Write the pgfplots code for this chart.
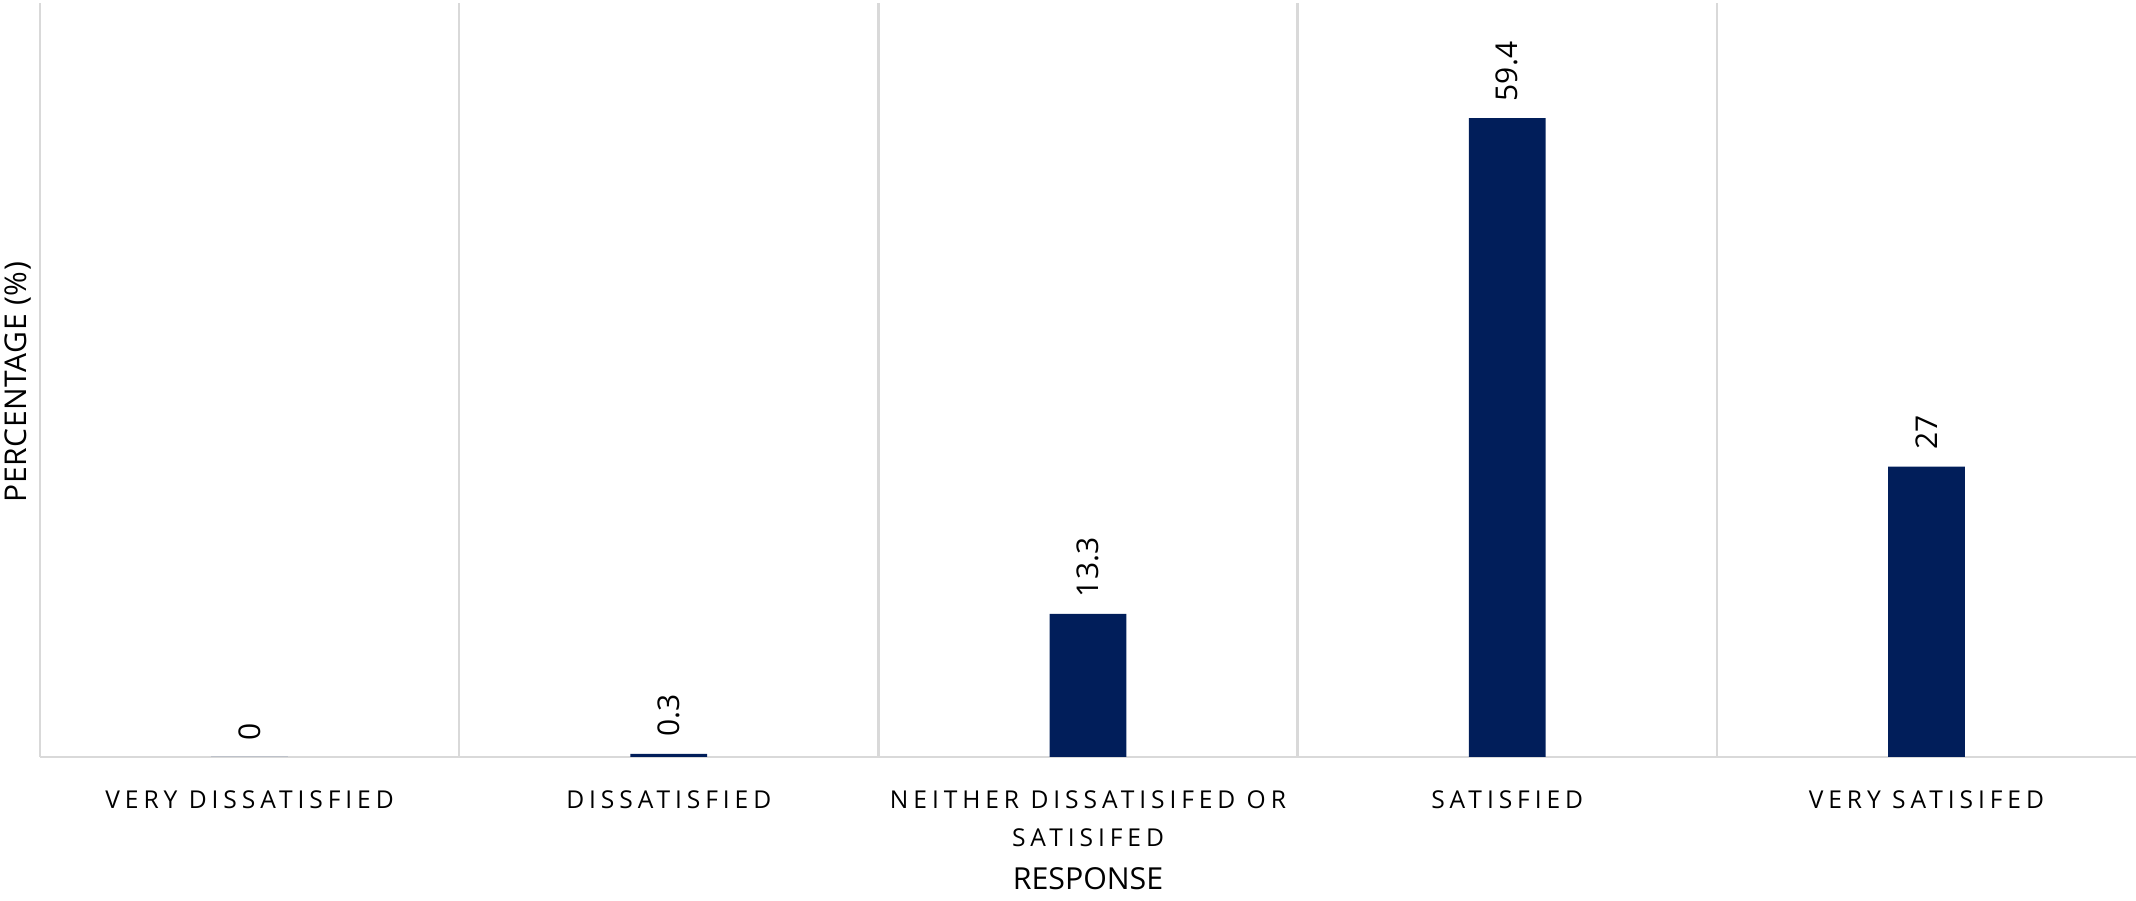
\documentclass[border=0pt]{standalone}
\usepackage{fontspec}
\setmainfont{Open Sans}
\newfontfamily\tickfont[LetterSpace=20]{Open Sans}
\newfontfamily\ylabfont[LetterSpace=2]{Open Sans}
\newfontfamily\valfont{Open Sans}
\usepackage{pgfplots}
\pgfplotsset{compat=1.18}
\definecolor{barnavy}{HTML}{011E5A}
\definecolor{gridgray}{HTML}{D9D9D9}

\begin{document}
\begin{tikzpicture}
\path[use as bounding box] (-13.33pt,-48pt) rectangle (698.67pt,252.33pt);
\begin{axis}[
  at={(0,0)}, anchor=south west,
  scale only axis, width=698.67pt, height=251.33pt,
  xmin=-0.5, xmax=4.5, ymin=0, ymax=70.1,
  ybar, bar width=25.6pt,
  axis line style={draw=none},
  xtick={0,1,2,3,4},
  xticklabels={{VERY DISSATISFIED},{DISSATISFIED},{NEITHER DISSATISIFED OR\\SATISIFED},{SATISFIED},{VERY SATISIFED}},
  minor xtick={-0.5,0.5,1.5,2.5,3.5},
  xminorgrids, minor x grid style={gridgray, line width=0.8pt},
  ytick={0},
  yticklabel style={opacity=0},
  ymajorgrids, major y grid style={gridgray, line width=0.8pt},
  major tick length=0pt, minor tick length=0pt,
  xticklabel style={font=\tickfont\fontsize{8.2}{12.6}\selectfont, align=center, anchor=north, inner sep=0pt, yshift=-11pt},
  xlabel={RESPONSE},
  xlabel style={at={(axis description cs:0.5,0)}, anchor=north, inner sep=0pt, yshift=-36.6pt, font=\fontsize{10.1}{12}\selectfont},
  ylabel={PERCENTAGE (\%)},
  ylabel style={at={(axis description cs:-0.0063,0.497)}, anchor=base, inner sep=0pt, font=\ylabfont\fontsize{10}{12}\selectfont},
  /pgf/number format/assume math mode=true,
  nodes near coords,
  every node near coord/.append style={font=\valfont\fontsize{10}{12}\selectfont, rotate=90, anchor=west, inner xsep=5.6pt, inner ysep=0pt, outer sep=0pt, text=black},
]
\addplot[fill=barnavy, draw=none] coordinates {(0,0) (1,0.3) (2,13.3) (3,59.4) (4,27)};
\end{axis}
\end{tikzpicture}
\end{document}
